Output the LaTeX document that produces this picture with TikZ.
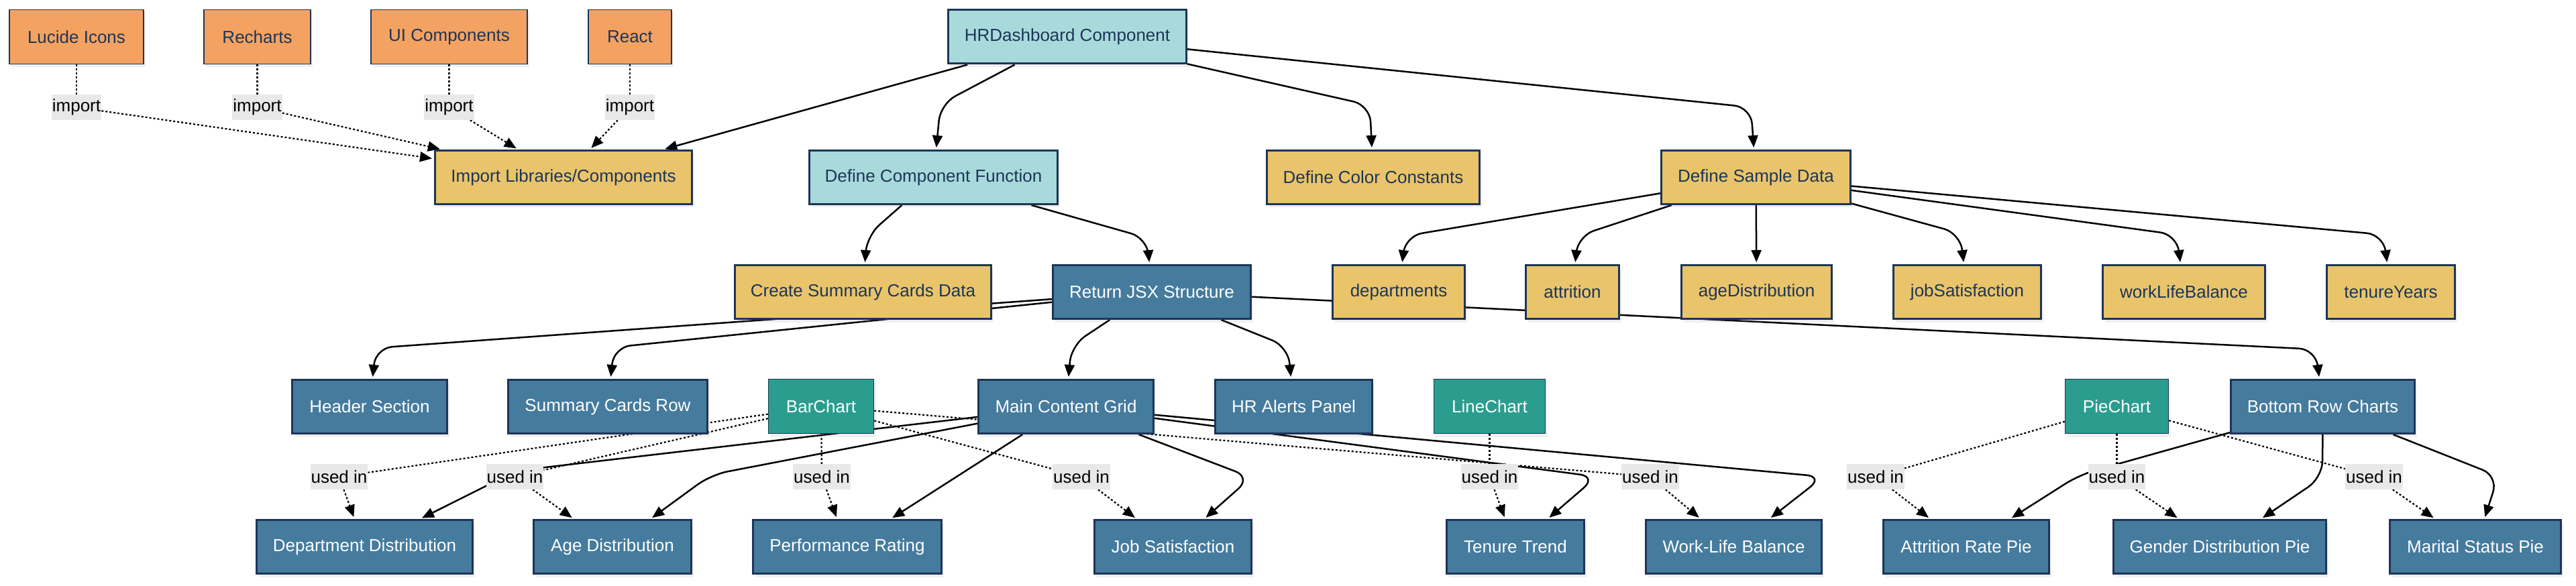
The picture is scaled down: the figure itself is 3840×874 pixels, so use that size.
\documentclass[tikz,border=0pt]{standalone}
\usepackage{fontspec}
\setmainfont{Liberation Sans}
\usetikzlibrary{arrows.meta,shadows,backgrounds}
\definecolor{orangebox}{HTML}{F4A261}
\definecolor{goldbox}{HTML}{E9C46A}
\definecolor{tealbox}{HTML}{A8DADC}
\definecolor{bluebox}{HTML}{457B9D}
\definecolor{greenbox}{HTML}{2A9D8F}
\definecolor{navy}{HTML}{1D3557}
\definecolor{lblgray}{HTML}{E8E8E8}
\begin{document}
\begin{tikzpicture}[x=1pt,y=-1pt,
  base/.style={rectangle, inner sep=0pt, align=center, font=\fontsize{26}{31}\selectfont,
     drop shadow={opacity=0.12, shadow xshift=3pt, shadow yshift=-5pt}},
  mainbox/.style={base, draw=navy, line width=3pt, minimum height=80pt},
  thinbox/.style={base, draw=navy, line width=1.5pt, minimum height=81pt},
  orng/.style={thinbox, fill=orangebox, text=navy},
  chart/.style={thinbox, fill=greenbox, text=white},
  gold/.style={mainbox, fill=goldbox, text=navy},
  teal/.style={mainbox, fill=tealbox, text=navy},
  blue/.style={mainbox, fill=bluebox, text=white},
  lbl/.style={rectangle, fill=lblgray, inner xsep=1pt, inner ysep=0pt, minimum height=38pt,
     font=\fontsize{26}{31}\selectfont, text=black},
  edge/.style={draw=black, line width=2.5pt, rounded corners=25pt},
  dot/.style={draw=black, line width=2.2pt, dash pattern=on 3pt off 3pt},
  arr/.style={-{Triangle[length=18pt,width=15pt]}, shorten >=3pt}
]
\useasboundingbox (0,0) rectangle (3840,874);

% Row 1
\node[orng,minimum width=200pt] (lucide) at (114,55) {Lucide Icons};
\node[orng,minimum width=159pt] (recharts) at (383.5,55) {Recharts};
\node[orng,minimum width=233pt] (uicomp) at (669.5,55) {UI Components};
\node[orng,minimum width=124pt] (react) at (939,55) {React};
\node[teal,minimum width=355pt] (hrdash) at (1591,55) {HRDashboard Component};

% Row 2
\node[gold,minimum width=383pt] (importlib) at (840,264.5) {Import Libraries/Components};
\node[teal,minimum width=370pt] (defcomp) at (1391.5,264.5) {Define Component Function};
\node[gold,minimum width=317pt] (defcolor) at (2047,264.5) {Define Color Constants};
\node[gold,minimum width=282pt] (defsample) at (2617.5,264.5) {Define Sample Data};

% Row 3
\node[gold,minimum width=382pt] (createsum) at (1286.5,435.5) {Create Summary Cards Data};
\node[blue,minimum width=295pt] (retjsx) at (1717,435.5) {Return JSX Structure};
\node[gold,minimum width=197pt] (departments) at (2085,435.5) {departments};
\node[gold,minimum width=139pt] (attrition) at (2344,435.5) {attrition};
\node[gold,minimum width=224pt] (agedist) at (2618.5,435.5) {ageDistribution};
\node[gold,minimum width=220pt] (jobsat) at (2932.5,435.5) {jobSatisfaction};
\node[gold,minimum width=242pt] (worklife) at (3255.5,435.5) {workLifeBalance};
\node[gold,minimum width=191pt] (tenure) at (3564,435.5) {tenureYears};

% Row 4
\node[blue,minimum width=231pt] (header) at (551,606.5) {Header Section};
\node[blue,minimum width=297pt] (sumcards) at (906,606.5) {Summary Cards Row};
\node[chart,minimum width=157pt] (barchart) at (1224,606) {BarChart};
\node[blue,minimum width=261pt] (maingrid) at (1589,606.5) {Main Content Grid};
\node[blue,minimum width=234pt] (hralerts) at (1928.5,606.5) {HR Alerts Panel};
\node[chart,minimum width=166pt] (linechart) at (2220.5,606) {LineChart};
\node[chart,minimum width=154pt] (piechart) at (3155.5,606) {PieChart};
\node[blue,minimum width=274pt] (bottomrow) at (3462.5,606.5) {Bottom Row Charts};

% Row 5
\node[blue,minimum width=322pt] (deptdist) at (543.5,815.5) {Department Distribution};
\node[blue,minimum width=235pt] (agedistc) at (913,815.5) {Age Distribution};
\node[blue,minimum width=281pt] (perfrating) at (1263,815.5) {Performance Rating};
\node[blue,minimum width=234pt] (jobsatc) at (1748.5,815.5) {Job Satisfaction};
\node[blue,minimum width=205pt] (tenuretrend) at (2259,815.5) {Tenure Trend};
\node[blue,minimum width=262pt] (worklifec) at (2584.5,815.5) {Work-Life Balance};
\node[blue,minimum width=247pt] (attritionpie) at (2931,815.5) {Attrition Rate Pie};
\node[blue,minimum width=317pt] (genderpie) at (3309,815.5) {Gender Distribution Pie};
\node[blue,minimum width=255pt] (maritalpie) at (3690,815.5) {Marital Status Pie};

% Labels
\node[lbl] (i1) at (114,160) {import};
\node[lbl] (i2) at (383.5,160) {import};
\node[lbl] (i3) at (669.5,160) {import};
\node[lbl] (i4) at (939,160) {import};
\node[lbl] (u1) at (505.5,711) {used in};
\node[lbl] (u2) at (767.5,711) {used in};
\node[lbl] (u3) at (1225,711) {used in};
\node[lbl] (u4) at (1612,711) {used in};
\node[lbl] (u5) at (2460,711) {used in};
\node[lbl] (u6) at (2220.5,711) {used in};
\node[lbl] (u7) at (2796,711) {used in};
\node[lbl] (u8) at (3155.5,711) {used in};
\node[lbl] (u9) at (3539,711) {used in};

\begin{pgfonlayer}{background}
% imports
\draw[dot] (lucide) -- (i1);   \draw[dot,arr] (i1) -- (importlib);
\draw[dot] (recharts) -- (i2); \draw[dot,arr] (i2) -- (importlib);
\draw[dot] (uicomp) -- (i3);   \draw[dot,arr] (i3) -- (importlib);
\draw[dot] (react) -- (i4);    \draw[dot,arr] (i4) -- (importlib);
% top level
\draw[edge,arr] (hrdash) -- (importlib);
\draw[edge,arr] (hrdash) -- (1402,155) -- (defcomp);
\draw[edge,arr] (hrdash) -- (2042,157) -- (defcolor);
\draw[edge,arr] (hrdash) -- (2610,160) -- (defsample);
% component function
\draw[edge,arr] (defcomp) -- (1292,352) -- (createsum);
\draw[edge,arr] (defcomp) -- (1710,355) -- (retjsx);
% sample data
\draw[edge,arr] (defsample) -- (2095,352) -- (departments);
\draw[edge,arr] (defsample) -- (2352,352) -- (attrition);
\draw[edge,arr] (defsample) -- (agedist);
\draw[edge,arr] (defsample) -- (2922,348) -- (jobsat);
\draw[edge,arr] (defsample) -- (3245,350) -- (worklife);
\draw[edge,arr] (defsample) -- (3553,350) -- (tenure);
% JSX structure
\draw[edge,arr] (retjsx) -- (560,519) -- (header);
\draw[edge,arr] (retjsx) -- (915,518) -- (sumcards);
\draw[edge,arr] (retjsx) -- (1597,515) -- (maingrid);
\draw[edge,arr] (retjsx) -- (1920,517) -- (hralerts);
\draw[edge,arr] (retjsx) -- (3452,521) -- (bottomrow);
% main grid
\draw[edge,arr] (maingrid) -- (770,702) -- (deptdist);
\draw[edge,arr] (maingrid) -- (1060,708) -- (agedistc);
\draw[edge,arr] (maingrid) -- (perfrating);
\draw[edge,arr] (maingrid) -- (1865,712) -- (jobsatc);
\draw[edge,arr] (maingrid) -- (2380,711) -- (tenuretrend);
\draw[edge,arr] (maingrid) -- (2718,711) -- (worklifec);
% bottom row
\draw[edge,arr] (bottomrow) -- (3100,708) -- (attritionpie);
\draw[edge,arr] (bottomrow) -- (3462,712) -- (genderpie);
\draw[edge,arr] (bottomrow) -- (3724,710) -- (maritalpie);
% charts used in
\draw[dot] (barchart) -- (u1); \draw[dot,arr] (u1) -- (deptdist);
\draw[dot] (barchart) -- (u2); \draw[dot,arr] (u2) -- (agedistc);
\draw[dot] (barchart) -- (u3); \draw[dot,arr] (u3) -- (perfrating);
\draw[dot] (barchart) -- (u4); \draw[dot,arr] (u4) -- (jobsatc);
\draw[dot] (barchart) -- (u5); \draw[dot,arr] (u5) -- (worklifec);
\draw[dot] (linechart) -- (u6); \draw[dot,arr] (u6) -- (tenuretrend);
\draw[dot] (piechart) -- (u7); \draw[dot,arr] (u7) -- (attritionpie);
\draw[dot] (piechart) -- (u8); \draw[dot,arr] (u8) -- (genderpie);
\draw[dot] (piechart) -- (u9); \draw[dot,arr] (u9) -- (maritalpie);
\end{pgfonlayer}
\end{tikzpicture}
\end{document}
